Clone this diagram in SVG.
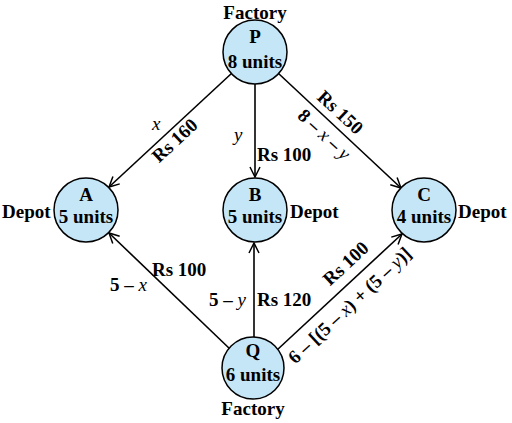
<svg xmlns="http://www.w3.org/2000/svg" width="512" height="423" viewBox="0 0 512 423">
<style>
text{font-family:"Liberation Serif","Times New Roman",serif;font-size:19px;font-weight:bold;fill:#000}
.n{fill:#c5e6f7;stroke:#000;stroke-width:1.5}
.e{stroke:#000;stroke-width:1.6;fill:none;marker-end:url(#ah)}
.i{font-style:italic;font-weight:normal}
.c{text-anchor:middle}
</style>
<defs>
<marker id="ah" viewBox="0 0 12 12" refX="11" refY="6" markerWidth="12" markerHeight="12" markerUnits="userSpaceOnUse" orient="auto">
<path d="M1,1 L11,6 L1,11" fill="none" stroke="#000" stroke-width="1.5"/>
</marker>
</defs>
<g id="connectors">
<line class="e" x1="232" y1="73" x2="109" y2="187"/>
<line class="e" x1="255" y1="84" x2="255" y2="177"/>
<line class="e" x1="278" y1="73" x2="401" y2="188"/>
<line class="e" x1="231" y1="350" x2="109" y2="233"/>
<line class="e" x1="254" y1="338" x2="254" y2="243"/>
<line class="e" x1="277" y1="350" x2="402" y2="234"/>
<text class="i" x="152" y="130">x</text>
<text class="c" transform="translate(179,145) rotate(-43)">Rs 160</text>
<text class="i" x="234" y="141">y</text>
<text x="257" y="161">Rs 100</text>
<text class="c" transform="translate(336,117) rotate(43)">Rs 150</text>
<text class="c" transform="translate(320,139) rotate(43)">8 – <tspan class="i">x</tspan> – <tspan class="i">y</tspan></text>
<text x="152" y="276">Rs 100</text>
<text x="110" y="291">5 – <tspan class="i">x</tspan></text>
<text x="209" y="306">5 – <tspan class="i">y</tspan></text>
<text x="257" y="306">Rs 120</text>
<text class="c" transform="translate(350,268) rotate(-43)">Rs 100</text>
<text class="c" transform="translate(354,310) rotate(-43)">6 – [(5 – <tspan class="i">x</tspan>) + (5 – <tspan class="i">y</tspan>)]</text>
</g>
<g id="P">
<text class="c" x="255" y="19">Factory</text>
<circle class="n" cx="255" cy="52" r="32"/>
<text class="c" x="255" y="43">P</text>
<text class="c" x="255" y="68">8 units</text>
</g>
<g id="A">
<circle class="n" cx="86" cy="210" r="32"/>
<text class="c" x="86" y="201">A</text>
<text class="c" x="86" y="223">5 units</text>
<text x="2" y="218">Depot</text>
</g>
<g id="B">
<circle class="n" cx="255" cy="210" r="32"/>
<text class="c" x="255" y="201">B</text>
<text class="c" x="255" y="223">5 units</text>
<text x="290" y="218">Depot</text>
</g>
<g id="C">
<circle class="n" cx="424" cy="210" r="32"/>
<text class="c" x="424" y="201">C</text>
<text class="c" x="424" y="223">4 units</text>
<text x="458" y="218">Depot</text>
</g>
<g id="Q">
<circle class="n" cx="253" cy="368" r="31"/>
<text class="c" x="253" y="357">Q</text>
<text class="c" x="253" y="381">6 units</text>
<text class="c" x="253" y="415">Factory</text>
</g>
</svg>
